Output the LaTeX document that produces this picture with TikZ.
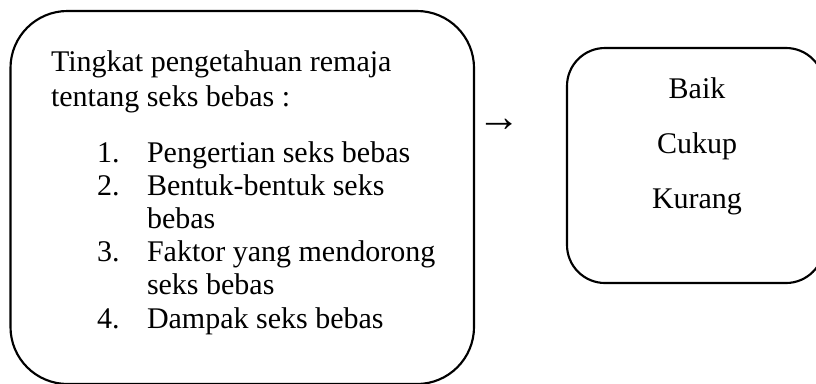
\documentclass[tikz,border=0pt]{standalone}
\usepackage{fontspec}
\setmainfont{Liberation Serif}
\begin{document}
\begin{tikzpicture}[x=0.75pt,y=-0.75pt,
  txt/.style={inner sep=0pt,outer sep=0pt,font=\fontsize{22.5}{26}\selectfont},
  lt/.style={txt,anchor=base west},
  ct/.style={txt,anchor=base},
  bigbox/.style={draw=black,line width=1.6pt,rounded corners=42.75pt},
  smallbox/.style={draw=black,line width=1.6pt,rounded corners=28.5pt}]
\useasboundingbox (0,0) rectangle (816,383);
\clip (0,0) rectangle (816,383);
\draw[bigbox] (10.5,11) rectangle (474,384);
\draw[smallbox] (567,48) rectangle (824,283);
\node[lt] (t1) at (51,71) {Tingkat pengetahuan remaja};
\node[lt] (t2) at (51,106) {tentang seks bebas :};
\node[lt] (n1) at (97,162) {1.};
\node[lt] (i1) at (147,162) {Pengertian seks bebas};
\node[lt] (n2) at (97,195.2) {2.};
\node[lt] (i2) at (147,195.2) {Bentuk-bentuk seks};
\node[lt] (i2b) at (147,228.4) {bebas};
\node[lt] (n3) at (97,261.6) {3.};
\node[lt] (i3) at (147,261.6) {Faktor yang mendorong};
\node[lt] (i3b) at (147,294.8) {seks bebas};
\node[lt] (n4) at (97,328) {4.};
\node[lt] (i4) at (147,328) {Dampak seks bebas};
\node[lt,font=\fontsize{32.6}{36}\selectfont] (arr) at (477,131.7) {→};
\node[ct] (b1) at (697,98) {Baik};
\node[ct] (b2) at (697,153) {Cukup};
\node[ct] (b3) at (697,208) {Kurang};
\end{tikzpicture}
\end{document}
